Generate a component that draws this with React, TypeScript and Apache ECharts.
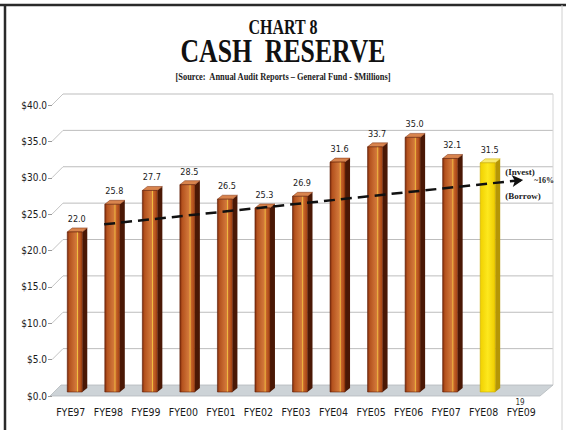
import React, { useEffect, useRef } from "react";
import * as echarts from "echarts";

const categories = ["FYE97", "FYE98", "FYE99", "FYE00", "FYE01", "FYE02", "FYE03", "FYE04", "FYE05", "FYE06", "FYE07", "FYE08", "FYE09"];
const cashReserve: (number | null)[] = [22.0, 25.8, 27.7, 28.5, 26.5, 25.3, 26.9, 31.6, 33.7, 35.0, 32.1, 31.5, null];
const highlightCategory = "FYE08";
const yMin = 0;
const yMax = 40;
const yInterval = 5;
const trendStart = [0.89, 23.6];
const trendEnd = [12.05, 29.7];
const titleLines = ["CHART 8", "CASH  RESERVE", "[Source:  Annual Audit Reports \u2013 General Fund - $Millions]"];
const trendNotes = ["(Invest)", "~16%", "(Borrow)"];
const pageNumber = "19";

const COND = "'DejaVu Sans Condensed', 'Liberation Sans', Arial, sans-serif";
const SERIF = "'Liberation Serif', 'Times New Roman', serif";

// layout (pixels)
const FRONT_LEFT = 52;
const FRONT_RIGHT = 540;
const FRONT_TOP = 105;
const FRONT_BOTTOM = 396;
const DEPTH_X = 11;
const DEPTH_Y = -11;
const WALL_RIGHT = 553;

export default function App() {
  const ref = useRef<HTMLDivElement>(null);
  useEffect(() => {
    document.body.style.margin = "0";
    const chart = echarts.init(ref.current!, undefined, { renderer: "svg" });

    const ticks: number[] = [];
    for (let v = yMin; v <= yMax; v += yInterval) ticks.push(v);
    const yOf = (v: number) => FRONT_BOTTOM - ((v - yMin) / (yMax - yMin)) * (FRONT_BOTTOM - FRONT_TOP);

    const wallLines: any[] = [];
    ticks.forEach((v) => {
      const yf = yOf(v);
      wallLines.push({
        type: "line",
        silent: true,
        shape: { x1: FRONT_LEFT, y1: yf, x2: FRONT_LEFT + DEPTH_X, y2: yf + DEPTH_Y },
        style: { stroke: "#c4c4c4", lineWidth: 1 },
      });
      if (v > yMin) {
        wallLines.push({
          type: "line",
          silent: true,
          shape: { x1: FRONT_LEFT + DEPTH_X, y1: yf + DEPTH_Y, x2: WALL_RIGHT, y2: yf + DEPTH_Y },
          style: { stroke: "#bdbdbd", lineWidth: 1 },
        });
      }
    });
    wallLines.push({
      type: "line",
      silent: true,
      shape: { x1: WALL_RIGHT, y1: yOf(yMax) + DEPTH_Y, x2: WALL_RIGHT, y2: yOf(yMin) + DEPTH_Y },
      style: { stroke: "#d6d6d6", lineWidth: 1 },
    });

    const option: any = {
      animation: false,
      backgroundColor: "#ffffff",
      grid: [{ left: FRONT_LEFT, right: 566 - FRONT_RIGHT, top: FRONT_TOP, bottom: 430 - FRONT_BOTTOM }],
      xAxis: [
        {
          type: "category",
          data: categories,
          axisLine: { show: false, onZero: false },
          axisTick: { show: false },
          axisLabel: { interval: 0, fontFamily: COND, fontSize: 10.5, color: "#1a1a1a", margin: 10 },
        },
        { type: "value", min: -0.5, max: categories.length - 0.5, show: false, axisLine: { onZero: false } },
      ],
      yAxis: [
        {
          type: "value",
          min: yMin,
          max: yMax,
          interval: yInterval,
          axisLine: { show: false, onZero: false },
          axisTick: { show: true, length: 4, lineStyle: { color: "#999999" } },
          splitLine: { show: false },
          axisLabel: {
            fontFamily: COND,
            fontSize: 10,
            color: "#1a1a1a",
            margin: 5,
            formatter: (v: number) => "$" + v.toFixed(1),
          },
        },
      ],
      series: [
        {
          type: "custom",
          xAxisIndex: 0,
          yAxisIndex: 0,
          z: 3,
          data: categories.map((c, i) => [i, cashReserve[i]]),
          renderItem: (params: any, api: any) => {
            const idx = api.value(0);
            const v = api.value(1);
            if (v == null || isNaN(v)) return null;
            const topPt = api.coord([idx, v]);
            const basePt = api.coord([idx, 0]);
            const ox = 4, oy = -4, w = 15, dx = 5, dy = -4;
            const x0 = topPt[0] + ox - w / 2;
            const x1 = x0 + w;
            const yt = topPt[1] + oy;
            const yb = basePt[1] + oy;
            const yellow = categories[idx] === highlightCategory;
            const front = yellow
              ? new echarts.graphic.LinearGradient(0, 0, 1, 0, [
                  { offset: 0, color: "#f0d000" },
                  { offset: 0.5, color: "#fde81e" },
                  { offset: 1, color: "#efcc00" },
                ])
              : new echarts.graphic.LinearGradient(0, 0, 1, 0, [
                  { offset: 0, color: "#7e2a0a" },
                  { offset: 0.15, color: "#b4521e" },
                  { offset: 0.45, color: "#c96c32" },
                  { offset: 0.62, color: "#d47a3a" },
                  { offset: 0.68, color: "#f2c040" },
                  { offset: 0.74, color: "#c8662c" },
                  { offset: 1, color: "#a2400f" },
                ]);
            const side = yellow ? "#b59606" : "#4a1805";
            const topC = yellow ? "#f8ea70" : "#d8844e";
            const children: any[] = [
              {
                type: "polygon",
                shape: { points: [[x1, yt], [x1 + dx, yt + dy], [x1 + dx, yb + dy], [x1, yb]] },
                style: { fill: side },
              },
              {
                type: "polygon",
                shape: { points: [[x0, yt], [x0 + dx, yt + dy], [x1 + dx, yt + dy], [x1, yt]] },
                style: { fill: topC, stroke: yellow ? "#c8a800" : "#7a2a0a", lineWidth: 0.5 },
              },
              {
                type: "rect",
                shape: { x: x0, y: yt, width: w, height: yb - yt },
                style: { fill: front, stroke: yellow ? "#c9ab00" : "#5e1e06", lineWidth: 0.6 },
              },
            ];
            children.push({
              type: "text",
              style: {
                x: (x0 + x1) / 2 + 2,
                y: yt - 13,
                text: v.toFixed(1),
                fill: "#1a1a1a",
                font: "9px " + COND,
                align: "center",
                verticalAlign: "middle",
              },
            });
            return { type: "group", children };
          },
        },
        {
          type: "line",
          xAxisIndex: 1,
          yAxisIndex: 0,
          data: [trendStart, trendEnd],
          symbol: "none",
          lineStyle: { opacity: 0 },
          z: 5,
          markLine: {
            silent: true,
            symbol: ["none", "arrow"],
            symbolSize: [9, 11],
            label: { show: false },
            lineStyle: { type: [11, 6], color: "#111111", width: 2.5 },
            data: [[{ coord: trendStart }, { coord: trendEnd }]],
          },
        },
      ],
      graphic: [
        // outer frame
        { type: "line", silent: true, shape: { x1: 0, y1: 5, x2: 566, y2: 5 }, style: { stroke: "#2a2a2a", lineWidth: 2.5 } },
        { type: "line", silent: true, shape: { x1: 5, y1: 5, x2: 5, y2: 430 }, style: { stroke: "#2a2a2a", lineWidth: 2.5 } },
        { type: "line", silent: true, shape: { x1: 562, y1: 5, x2: 562, y2: 430 }, style: { stroke: "#d0d0d0", lineWidth: 1 } },
        ...wallLines,
        // floor
        {
          type: "polygon",
          silent: true,
          shape: {
            points: [
              [FRONT_LEFT - 2, FRONT_BOTTOM],
              [FRONT_RIGHT, FRONT_BOTTOM],
              [WALL_RIGHT, FRONT_BOTTOM + DEPTH_Y],
              [FRONT_LEFT + DEPTH_X - 2, FRONT_BOTTOM + DEPTH_Y],
            ],
          },
          style: { fill: "#cdd3d7", stroke: "#b4b9bd", lineWidth: 0.8 },
        },
        // titles
        {
          type: "text",
          x: 283,
          y: 27,
          scaleX: 0.8,
          silent: true,
          style: { text: titleLines[0], font: "bold 20px " + SERIF, fill: "#111", align: "center", verticalAlign: "middle" },
        },
        {
          type: "text",
          x: 283,
          y: 51,
          scaleX: 0.78,
          silent: true,
          style: { text: titleLines[1], font: "bold 33px " + SERIF, fill: "#111", align: "center", verticalAlign: "middle" },
        },
        {
          type: "text",
          x: 283,
          y: 77,
          scaleX: 0.8,
          silent: true,
          style: { text: titleLines[2], font: "bold 10.5px " + SERIF, fill: "#1a1a1a", align: "center", verticalAlign: "middle" },
        },
        // trend notes
        { type: "text", x: 520, y: 172, silent: true, style: { text: trendNotes[0], font: "bold 9px " + SERIF, fill: "#222", align: "center", verticalAlign: "middle" } },
        { type: "text", x: 544, y: 180, silent: true, style: { text: trendNotes[1], font: "bold 8px " + SERIF, fill: "#222", align: "center", verticalAlign: "middle" } },
        { type: "text", x: 523, y: 196, silent: true, style: { text: trendNotes[2], font: "bold 9px " + SERIF, fill: "#222", align: "center", verticalAlign: "middle" } },
        { type: "text", x: 520, y: 402, silent: true, style: { text: pageNumber, font: "8px " + COND, fill: "#333", align: "center", verticalAlign: "middle" } },
      ],
    };
    chart.setOption(option);
    return () => chart.dispose();
  }, []);
  return <div ref={ref} style={{ width: 566, height: 430 }} />;
}
